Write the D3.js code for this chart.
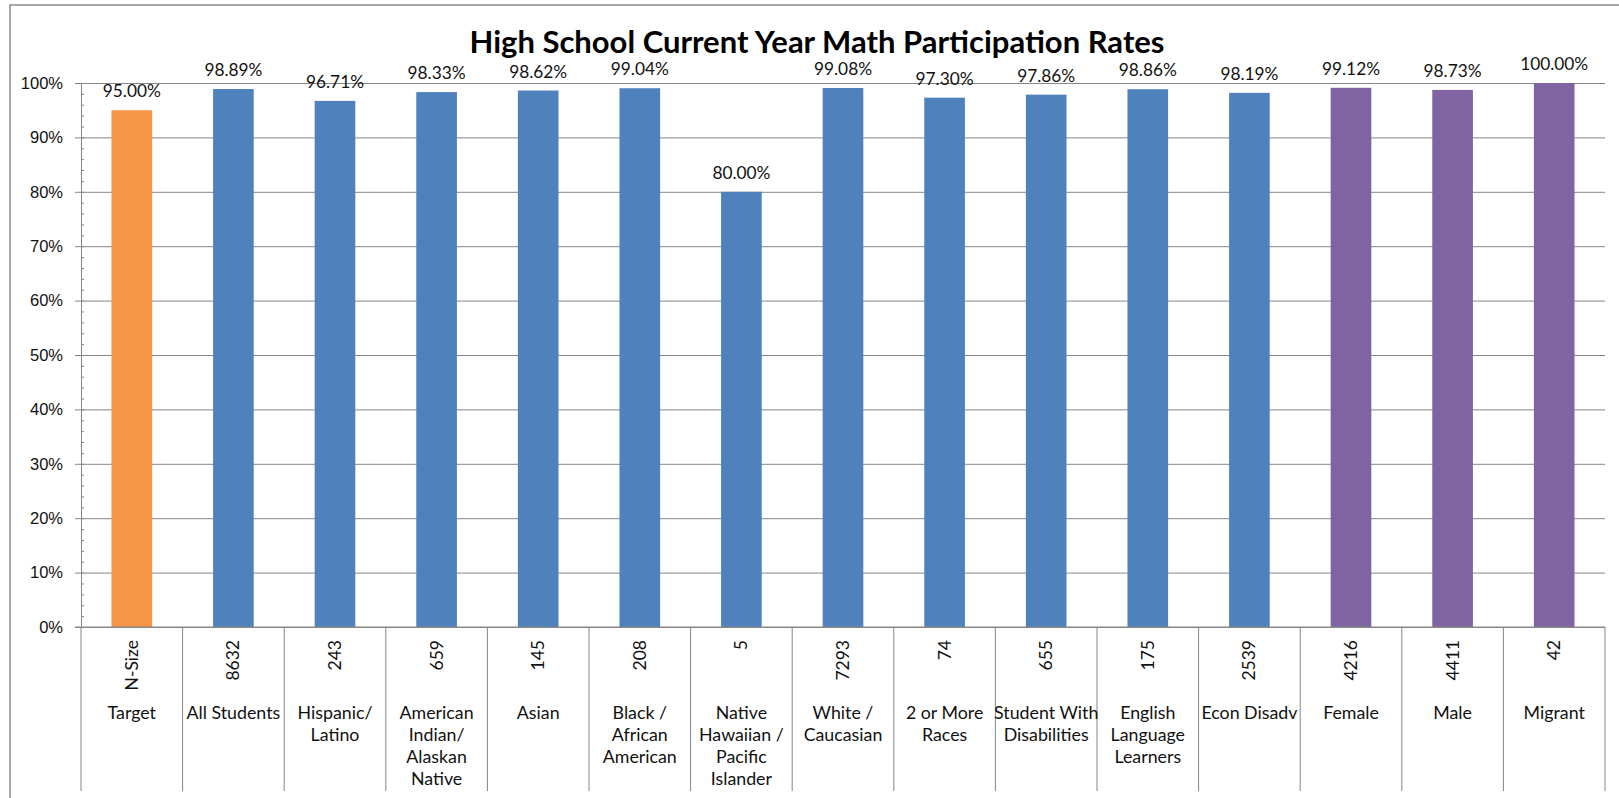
<!DOCTYPE html>
<html>
<head>
<meta charset="utf-8">
<script src="https://cdn.jsdelivr.net/npm/d3@7"></script>
<style>
  body { margin: 0; background: #fff; }
  svg { display: block; font-family: "Lato", "Liberation Sans", sans-serif; }
  .axis text { font-size: 16.5px; fill: #111; }
  .axis path, .axis line { stroke: #868686; }
</style>
</head>
<body>
<script>
// chart data
var categories = ["Target", "All Students", "Hispanic/\nLatino", "American\nIndian/\nAlaskan\nNative",
  "Asian", "Black /\nAfrican\nAmerican", "Native\nHawaiian /\nPacific\nIslander", "White /\nCaucasian",
  "2 or More\nRaces", "Student With\nDisabilities", "English\nLanguage\nLearners", "Econ Disadv",
  "Female", "Male", "Migrant"];
var rates = [95.00, 98.89, 96.71, 98.33, 98.62, 99.04, 80.00, 99.08, 97.30, 97.86, 98.86, 98.19, 99.12, 98.73, 100.00];
var nSizes = ["N-Size", "8632", "243", "659", "145", "208", "5", "7293", "74", "655", "175", "2539", "4216", "4411", "42"];
var barGroup = ["target", "sub", "sub", "sub", "sub", "sub", "sub", "sub", "sub", "sub", "sub", "sub", "gender", "gender", "migrant"];
var yTicks = [0, 10, 20, 30, 40, 50, 60, 70, 80, 90, 100];

var groupColor = {target: "#F79646", sub: "#4F81BD", gender: "#8064A2", migrant: "#8064A2"};

var W = 1619, H = 798;
var margin = {top: 83, left: 81, right: 14, bottom: 171};
var plotRight = W - margin.right;
var plotBottom = H - margin.bottom;
var tableBottom = 791;

var svg = d3.select("body").append("svg")
    .attr("width", W)
    .attr("height", H);

// outer frame (only top/left show in the crop)
svg.append("path")
    .attr("d", "M10,798 L10,5 L1619,5")
    .attr("fill", "none")
    .attr("stroke", "#8a8a8a")
    .attr("stroke-width", 1.5);

var rows = categories.map(function(c, i) {
    return {cat: c, rate: rates[i], n: nSizes[i], group: barGroup[i]};
});

var x = d3.scaleBand()
    .domain(categories)
    .range([margin.left, plotRight])
    .paddingInner(0.6)
    .paddingOuter(0.3);

var y = d3.scaleLinear()
    .domain([0, 100])
    .range([plotBottom, margin.top]);

// gridlines
svg.append("g")
    .attr("class", "axis grid")
    .attr("transform", "translate(" + margin.left + ",0)")
    .call(d3.axisLeft(y).tickValues(yTicks).tickSize(-(plotRight - margin.left)).tickFormat(""))
    .call(function(g) { g.select(".domain").remove(); });

// minor ticks
svg.append("g")
    .attr("class", "axis")
    .attr("transform", "translate(" + margin.left + ",0)")
    .call(d3.axisRight(y).tickValues(d3.range(0, 101, 2)).tickSize(3).tickFormat(""))
    .call(function(g) { g.select(".domain").remove(); });

// y axis
svg.append("g")
    .attr("class", "axis")
    .attr("transform", "translate(" + margin.left + ",0)")
    .call(d3.axisLeft(y).tickValues(yTicks).tickSize(6).tickSizeOuter(0).tickPadding(12)
        .tickFormat(function(d) { return d + "%"; }));

// bars
svg.selectAll("rect.bar")
    .data(rows)
    .enter()
    .append("rect")
    .attr("class", "bar")
    .attr("x", function(d) { return x(d.cat); })
    .attr("y", function(d) { return y(d.rate); })
    .attr("width", x.bandwidth())
    .attr("height", function(d) { return y(0) - y(d.rate); })
    .attr("fill", function(d) { return groupColor[d.group]; });

// value labels
svg.selectAll("text.val")
    .data(rows)
    .enter()
    .append("text")
    .attr("class", "val")
    .attr("x", function(d) { return x(d.cat) + x.bandwidth() / 2; })
    .attr("y", function(d) { return y(d.rate) - 13; })
    .attr("text-anchor", "middle")
    .attr("font-size", 17.3)
    .attr("fill", "#111")
    .text(function(d) { return d.rate.toFixed(2) + "%"; });

// x axis line
svg.append("line")
    .attr("x1", margin.left - 6).attr("x2", plotRight)
    .attr("y1", plotBottom).attr("y2", plotBottom)
    .attr("stroke", "#868686");

// table separators
var step = x.step();
var edges = d3.range(categories.length + 1).map(function(i) { return margin.left + i * step; });
svg.selectAll("line.sep")
    .data(edges)
    .enter()
    .append("line")
    .attr("class", "sep")
    .attr("x1", function(d) { return d; }).attr("x2", function(d) { return d; })
    .attr("y1", plotBottom).attr("y2", tableBottom)
    .attr("stroke", "#868686");

// n-size row (rotated)
svg.selectAll("text.nsize")
    .data(rows)
    .enter()
    .append("text")
    .attr("class", "nsize")
    .attr("transform", function(d) {
        return "translate(" + (x(d.cat) + x.bandwidth() / 2 + 6) + "," + (plotBottom + 13) + ") rotate(-90)";
    })
    .attr("text-anchor", "end")
    .attr("font-size", 17.5)
    .attr("fill", "#111")
    .text(function(d) { return d.n; });

// category labels
var catText = svg.selectAll("text.cat")
    .data(rows)
    .enter()
    .append("text")
    .attr("class", "cat")
    .attr("text-anchor", "middle")
    .attr("font-size", 17.8)
    .attr("fill", "#111");

catText.selectAll("tspan")
    .data(function(d) {
        return d.cat.split("\n").map(function(t) { return {t: t, cx: x(d.cat) + x.bandwidth() / 2}; });
    })
    .enter()
    .append("tspan")
    .attr("x", function(d) { return d.cx; })
    .attr("y", function(d, i) { return 718.5 + i * 22.3; })
    .text(function(d) { return d.t; });

// title
svg.append("text")
    .attr("x", 817)
    .attr("y", 53)
    .attr("text-anchor", "middle")
    .attr("font-size", 31)
    .attr("font-weight", "bold")
    .attr("fill", "#000")
    .text("High School Current Year Math Participation Rates");
</script>
</body>
</html>
